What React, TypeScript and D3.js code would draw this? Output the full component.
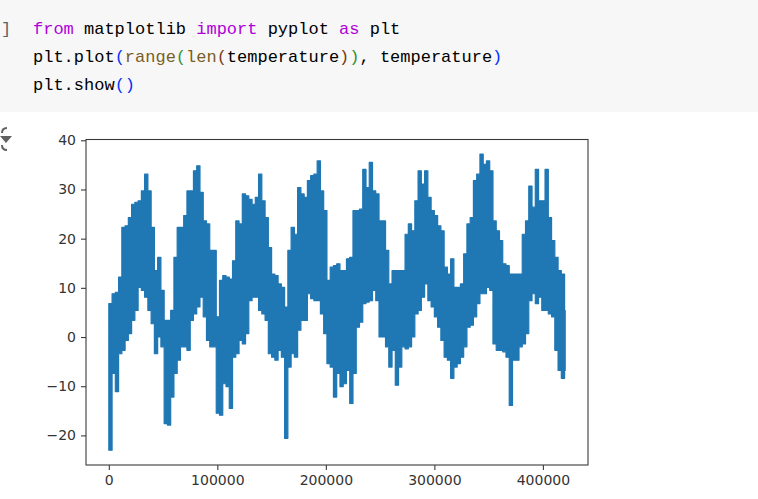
import * as d3 from 'd3'
import { useEffect, useRef } from 'react'

const W = 758
const H = 499

// plot frame (pixels in the screenshot)
const PLOT_LEFT = 86
const PLOT_RIGHT = 588
const PLOT_TOP = 139.5
const PLOT_BOTTOM = 465

const N = 420551
const STEP = 3000
const X_TICKS = [0, 100000, 200000, 300000, 400000]
const Y_TICKS = [-20, -10, 0, 10, 20, 30, 40]

// per-bin upper / lower envelope of the temperature trace
const hi = [
  6.8, 8.8, 9.1, 12.2, 22.3, 22.6, 24.3, 27.0, 27.4, 27.7,
  29.7, 33.1, 29.7, 22.3, 13.5, 16.2, 9.5, 3.4, 3.4, 5.4,
  16.2, 22.3, 22.3, 24.7, 29.7, 29.7, 33.8, 34.8, 29.4, 23.6,
  23.0, 17.6, 17.6, 4.1, 11.5, 12.5, 12.2, 11.8, 15.5, 23.6,
  23.0, 29.1, 28.7, 28.0, 27.0, 28.4, 33.1, 27.7, 24.3, 18.2,
  12.8, 12.5, 10.8, 10.1, 6.1, 17.6, 22.3, 20.9, 30.4, 29.1,
  28.4, 31.8, 32.8, 33.1, 35.8, 29.7, 25.7, 11.5, 14.2, 14.5,
  14.9, 13.5, 13.5, 15.9, 16.2, 25.7, 25.7, 26.0, 34.1, 30.4,
  35.5, 29.7, 29.1, 23.6, 23.6, 17.6, 10.8, 13.5, 13.5, 13.5,
  13.5, 20.9, 23.0, 21.6, 27.7, 33.8, 31.1, 33.8, 28.4, 25.7,
  24.7, 22.6, 21.6, 14.2, 12.8, 15.9, 10.1, 10.1, 10.8, 16.9,
  23.0, 24.3, 31.8, 33.1, 37.2, 35.1, 35.8, 33.8, 23.6, 21.6,
  19.6, 14.9, 14.5, 12.8, 12.8, 12.8, 12.8, 20.9, 23.6, 30.7,
  26.4, 34.1, 27.7, 27.7, 34.1, 24.3, 19.6, 16.2, 13.5, 12.8,
  5.4,
]
const lo = [
  -23.0, -7.4, -11.1, -3.4, -2.7, -0.7, 0.7, 3.4, 5.4, 10.1,
  9.5, 8.1, 5.4, 2.7, -3.4, 0, -2.0, -17.6, -17.9, -12.2,
  -7.4, -4.7, -2.0, -2.0, -2.7, 3.4, 4.7, 6.1, 8.1, 4.1,
  -0.7, -2.0, -2.0, -15.5, -15.9, -9.5, -10.1, -14.5, -4.1, -3.4,
  -0.7, -1.4, 0.7, 7.4, 8.1, 8.1, 5.4, 4.7, 3.4, -3.4,
  -4.1, -4.7, -2.7, -4.1, -20.6, -6.1, -3.4, -4.1, 1.4, 3.4,
  3.4, 8.8, 7.8, 7.4, 7.4, 4.7, 0.7, -5.4, -6.1, -12.2,
  -7.4, -10.1, -9.5, -6.8, -13.5, -7.4, 2.0, 3.0, 6.8, 7.1,
  7.4, 9.5, 7.4, 0, 0, -2.0, -6.1, -2.7, -9.8, -6.1,
  -2.0, -2.4, -2.0, 0, 4.7, 5.4, 8.1, 10.8, 7.4, 6.1,
  4.1, 2.0, -0.7, -4.1, -4.7, -8.4, -6.1, -5.4, -4.1, -2.0,
  2.0, 2.4, 4.1, 6.8, 8.8, 8.8, 10.1, 9.5, -1.4, -2.7,
  -2.7, -3.0, -4.1, -13.9, -4.7, -4.7, -2.0, -1.4, 0.7, 7.4,
  8.8, 6.8, 8.1, 5.4, 5.4, 4.7, 4.1, -2.7, -6.8, -8.4,
  -6.8,
]

// code cell: each line is a list of [text, colour] tokens
const KW = '#af00db'
const FN = '#795e26'
const P1 = '#0431fa'
const P2 = '#319331'
const P3 = '#7b3814'
const TX = '#000000'
const codeLines: [string, string][][] = [
  [['from', KW], [' matplotlib ', TX], ['import', KW], [' pyplot ', TX], ['as', KW], [' plt', TX]],
  [['plt.plot', TX], ['(', P1], ['range', FN], ['(', P2], ['len', FN], ['(', P3], ['temperature', TX], [')', P3], [')', P2], [', temperature', TX], [')', P1]],
  [['plt.show', TX], ['()', P1]],
]

const MONO = '"Liberation Mono", "DejaVu Sans Mono", monospace'

interface Bin { i: number; hi: number; lo: number }

export default function App() {
  const ref = useRef<SVGGElement>(null)

  useEffect(() => {
    if (!ref.current) return
    const g = d3.select(ref.current)
    g.selectAll('*').remove()

    const x = d3.scaleLinear().domain([-21027, 441578]).range([PLOT_LEFT, PLOT_RIGHT])
    const y = d3.scaleLinear().domain([-26.02, 40.16]).range([PLOT_BOTTOM, PLOT_TOP])

    const bins: Bin[] = hi.map((h, k) => ({ i: k * STEP, hi: h, lo: lo[k] }))
    bins.push({ i: N - 1, hi: hi[hi.length - 1], lo: lo[lo.length - 1] })

    const area = d3.area<Bin>()
      .x(d => x(d.i))
      .y0(d => y(d.lo))
      .y1(d => y(d.hi))
      .curve(d3.curveStepAfter)

    g.append('path')
      .attr('d', area(bins))
      .attr('fill', '#1f77b4')
      .attr('stroke', '#1f77b4')
      .attr('stroke-width', 1.2)
      .attr('stroke-linejoin', 'round')

    // frame
    g.append('rect')
      .attr('x', PLOT_LEFT)
      .attr('y', PLOT_TOP)
      .attr('width', PLOT_RIGHT - PLOT_LEFT)
      .attr('height', PLOT_BOTTOM - PLOT_TOP)
      .attr('fill', 'none')
      .attr('stroke', '#3a3a3a')
      .attr('stroke-width', 1.1)

    const xAxis = g.append('g').attr('transform', `translate(0,${PLOT_BOTTOM})`)
    xAxis.call(d3.axisBottom(x).tickValues(X_TICKS).tickSize(5).tickPadding(5).tickFormat(d => String(d)))
    const yAxis = g.append('g').attr('transform', `translate(${PLOT_LEFT},0)`)
    yAxis.call(d3.axisLeft(y).tickValues(Y_TICKS).tickSize(5).tickPadding(5).tickFormat(d => String(d).replace('-', '\u2212')))

    g.selectAll('.domain').remove()
    g.selectAll('.tick line').attr('stroke', '#3a3a3a').attr('stroke-width', 1.1)
    g.selectAll('.tick text')
      .attr('fill', '#333333')
      .attr('font-family', '"DejaVu Sans", sans-serif')
      .attr('font-size', 14)
  }, [])

  return (
    <>
      <style>{'body{margin:0;background:#fff}'}</style>
      <svg width={W} height={H} style={{ display: 'block' }}>
        <rect x={0} y={0} width={W} height={112} fill="#f7f7f7" />
        <text x={1} y={33.5} fontFamily={MONO} fontSize={17} fill="#616161">]</text>
        {codeLines.map((line, li) => (
          <text key={li} x={33} y={33.5 + li * 28.3} fontFamily={MONO} fontSize={17} style={{ whiteSpace: 'pre' }}>
            {line.map(([t, c], ti) => <tspan key={ti} fill={c}>{t}</tspan>)}
          </text>
        ))}
        {/* output toggle icon, cut off at the left edge */}
        <path d="M7,128 Q2,128 2,133 M2,145 Q2,150 7,150" fill="none" stroke="#616161" strokeWidth={2} />
        <path d="M0,136 L12,136 L6,143 Z" fill="#616161" />
        <g ref={ref} />
      </svg>
    </>
  )
}
